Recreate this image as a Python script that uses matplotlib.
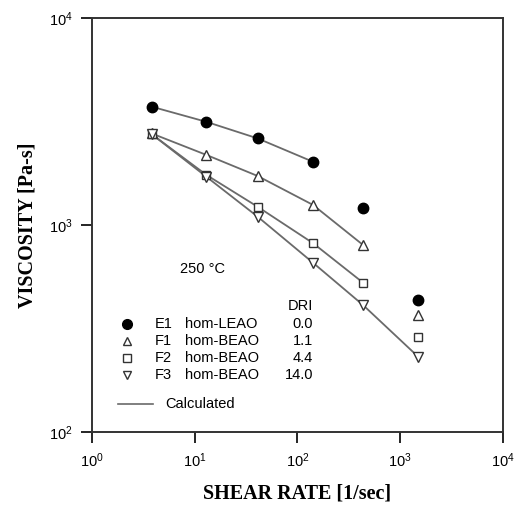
import matplotlib
matplotlib.use("Agg")
import matplotlib.pyplot as plt

# shear rate [1/sec]
rate = [3.8, 13, 41, 142, 437, 1500]

# measured viscosity [Pa-s]
e1 = [3730, 3150, 2620, 2020, 1210, 435]
f1 = [2770, 2180, 1725, 1250, 800, 367]
f2 = [2750, 1745, 1225, 817, 526, 288]
f3 = [2750, 1710, 1097, 657, 410, 231]

# calculated curves (number of points drawn per series)
e1_calc = e1[:4]
f1_calc = f1[:5]
f2_calc = f2[:5]
f3_calc = f3[:6]

names = ["E1", "F1", "F2", "F3"]
types = ["hom-LEAO", "hom-BEAO", "hom-BEAO", "hom-BEAO"]
dri = ["0.0", "1.1", "4.4", "14.0"]

sans = "Liberation Sans"
serif = "Liberation Serif"
lc = "#6a6a6a"

fig = plt.figure(figsize=(5.32, 5.08), dpi=100)
ax = fig.add_axes([0.173, 0.1496, 0.772, 0.815])

for calc in [e1_calc, f1_calc, f2_calc, f3_calc]:
    ax.plot(rate[:len(calc)], calc, color=lc, lw=1.3)

ax.plot(rate, e1, "o", color="black", ms=7.5, ls="none")
ax.plot(rate, f1, "^", mfc="white", mec="#333333", mew=1.0, ms=6.5, ls="none")
ax.plot(rate, f2, "s", mfc="white", mec="#333333", mew=1.0, ms=6, ls="none")
ax.plot(rate, f3, "v", mfc="white", mec="#333333", mew=1.0, ms=6.5, ls="none")

ax.set_xscale("log")
ax.set_yscale("log")
ax.set_xlim(1, 1e4)
ax.set_ylim(100, 1e4)
ax.minorticks_off()
ax.set_xticks([1, 10, 100, 1000, 10000])
ax.set_yticks([100, 1000, 10000])
ax.tick_params(direction="out", length=8, width=1.2, labelsize=10.5, pad=6)
for lab in ax.get_xticklabels() + ax.get_yticklabels():
    lab.set_fontfamily(sans)
for s in ax.spines.values():
    s.set_linewidth(1.4)
    s.set_color("#333333")

ax.set_xlabel("SHEAR RATE [1/sec]", fontfamily=serif, fontweight="bold", fontsize=14.5, labelpad=10)
ax.set_ylabel("VISCOSITY [Pa-s]", fontfamily=serif, fontweight="bold", fontsize=14.5, labelpad=8)

# in-plot annotations (figure pixel coords -> fraction)
W, H = 532, 508
def fx(x):
    return x / W
def fy(y):
    return 1 - y / H

fs = 10.5
fig.text(fx(203), fy(269), "250 °C", fontfamily=sans, fontsize=fs, ha="center", va="center")
fig.text(fx(313), fy(306), "DRI", fontfamily=sans, fontsize=fs, ha="right", va="center")

rows_y = [324, 341, 358, 375]
markers = [("o", "black"), ("^", "white"), ("s", "white"), ("v", "white")]
for i, y in enumerate(rows_y):
    m, fc = markers[i]
    fig.add_artist(plt.Line2D([fx(127)], [fy(y)], marker=m, mfc=fc, mec="#333333" if fc == "white" else "black",
                              ms=7 if m == "o" else 6, mew=1.0, transform=fig.transFigure))
    fig.text(fx(155), fy(y), names[i], fontfamily=sans, fontsize=fs, va="center")
    fig.text(fx(185), fy(y), types[i], fontfamily=sans, fontsize=fs, va="center")
    fig.text(fx(313), fy(y), dri[i], fontfamily=sans, fontsize=fs, va="center", ha="right")

fig.add_artist(plt.Line2D([fx(118), fx(153)], [fy(404), fy(404)], color=lc, lw=1.2, transform=fig.transFigure))
fig.text(fx(165), fy(404), "Calculated", fontfamily=sans, fontsize=fs, va="center")

fig.savefig("out.png", dpi=100)
